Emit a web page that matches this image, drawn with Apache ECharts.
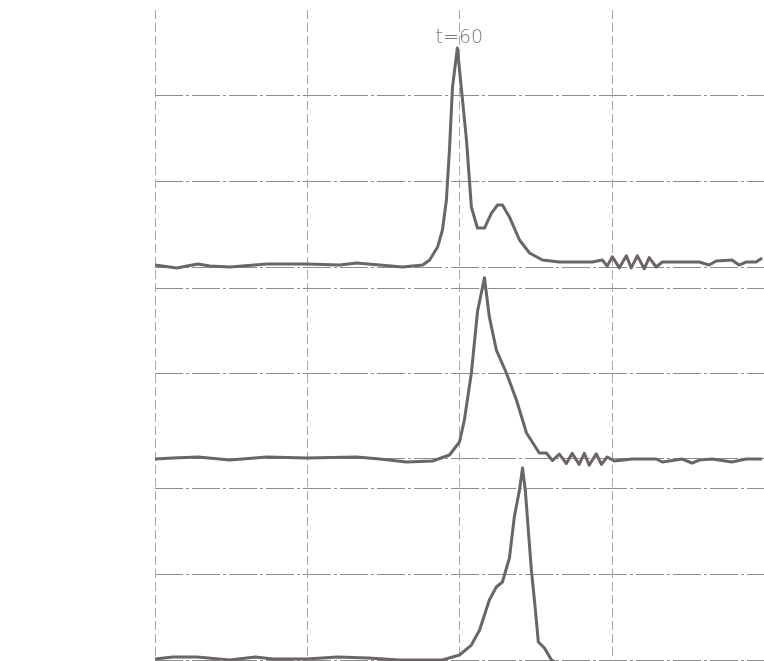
<!DOCTYPE html>
<html>
<head>
<meta charset="utf-8">
<script src="https://cdn.jsdelivr.net/npm/echarts@6/dist/echarts.min.js"></script>
<style>html,body{margin:0;padding:0;background:#fff;}#c{width:764px;height:661px;}</style>
</head>
<body>
<div id="c"></div>
<script>
// Trace 1 (top strip), [time, signal]
const trace1 = [[0,0.23],[7.2,-0.12],[10.5,0.12],[14.1,0.35],[18.0,0.12],[24.6,0],[36.7,0.35],[49.8,0.35],[60.7,0.23],[66.2,0.47],[73.8,0.23],[81.3,0],[87.9,0.23],[90.2,0.82],[92.8,2.33],[94.4,4.32],[95.7,7.82],[96.7,13.66],[97.7,21.0],[99.3,25.56],[102.3,14.8],[103.9,7.0],[105.9,4.55],[108.2,4.55],[110.5,6.3],[112.5,7.24],[114.1,7.24],[116.4,5.84],[119.7,3.15],[123.0,1.63],[127.2,0.82],[132.8,0.58],[143.6,0.58],[146.9,0.82],[148.5,0.1],[150.2,1.2],[152.5,-0.1],[154.8,1.3],[156.4,-0.1],[158.4,1.3],[160.7,-0.2],[162.3,1.1],[164.6,0],[166.6,0.58],[178.7,0.58],[182.0,0.23],[184.3,0.7],[189.5,0.82],[191.8,0.23],[194.1,0.58],[197.4,0.58],[199.4,1.05]];
// Trace 2 (middle strip)
const trace2 = [[0,-0.12],[5.9,0],[14.1,0.12],[24.6,-0.24],[36.7,0.12],[49.8,0],[66.2,0.12],[73.8,-0.12],[82.6,-0.47],[91.2,-0.35],[96.7,0.35],[100.0,1.88],[101.6,4.47],[103.9,10.0],[105.9,17.2],[108.2,21.2],[109.8,16.6],[112.1,12.7],[115.4,10.0],[118.7,6.82],[122.0,2.94],[126.2,0.59],[128.5,0.59],[130.5,-0.3],[132.8,0.45],[135.1,-0.65],[137.0,0.55],[139.3,-0.75],[141.0,0.55],[142.6,-0.85],[144.9,0.5],[146.6,-0.75],[148.5,0.12],[150.8,-0.35],[156.7,-0.12],[164.6,-0.12],[166.6,-0.47],[173.1,-0.12],[176.4,-0.59],[178.7,-0.24],[183.0,-0.12],[189.5,-0.47],[194.1,-0.12],[199.4,-0.12]];
// Trace 3 (bottom strip)
const trace3 = [[0,0.12],[5.9,0.35],[13.8,0.35],[24.6,0],[33.0,0.35],[38.7,0.12],[49.8,0.12],[60.0,0.35],[70.0,0.23],[80.3,0],[94.4,0],[100.0,0.58],[103.9,1.74],[106.6,3.49],[109.8,6.98],[112.1,8.49],[114.1,9.07],[116.4,11.86],[118.0,16.63],[119.7,19.77],[120.7,22.33],[121.6,19.77],[123.6,10.47],[124.6,6.98],[125.9,2.09],[127.9,1.40],[130.2,0],[132.8,-0.5],[199.7,-0.5]];
const peakLabel = 't=60';
const peakCoord = [99.3, 25.56];

const traceColor = '#6b6468';
const gridLineStyle = {color:'#8e8e8e', width:1, type:[28,3,3,3]};
const vLineStyle = {color:'#a8a8a8', width:1, type:[9,4]};

const chart = echarts.init(document.getElementById('c'));
const panels = [
  {top:10, height:257, max:30, data:trace1, showMax:false},
  {top:288, height:170, max:20, data:trace2, showMax:true},
  {top:488, height:172, max:20, data:trace3, showMax:true}
];
const grid = [{left:155, width:610, top:10, height:651}];
const xAxis = [{type:'value', gridIndex:0, min:0, max:200, interval:50, axisLine:{show:false}, axisTick:{show:false}, axisLabel:{show:false}, splitLine:{show:true, lineStyle:vLineStyle}}];
const yAxis = [{type:'value', gridIndex:0, min:0, max:1, show:false, splitLine:{show:false}}];
const series = [];
panels.forEach((p,i)=>{
  const g = i+1;
  grid.push({left:155, width:610, top:p.top, height:p.height});
  xAxis.push({type:'value', gridIndex:g, min:0, max:200, interval:50, show:false, splitLine:{show:false}});
  yAxis.push({type:'value', gridIndex:g, min:0, max:p.max, interval:10, axisLine:{show:false}, axisTick:{show:false}, axisLabel:{show:false},
    splitLine:{show:true, showMaxLine:p.showMax, lineStyle:gridLineStyle}});
  const s = {type:'line', xAxisIndex:g, yAxisIndex:g, data:p.data, showSymbol:false, symbol:'none', clip:false, smooth:false,
    lineStyle:{color:traceColor, width:3, join:'round'}, silent:true, animation:false};
  if(i===0){
    s.markPoint = {symbol:'circle', symbolSize:1, itemStyle:{color:'rgba(0,0,0,0)'}, silent:true,
      data:[{coord:peakCoord, label:{show:true, formatter:peakLabel, position:'top', distance:0, offset:[2,0],
        color:'#7a7a7a', fontSize:19, fontFamily:'DejaVu Sans', fontWeight:'lighter'}}]};
  }
  series.push(s);
});
chart.setOption({backgroundColor:'#ffffff', animation:false, grid, xAxis, yAxis, series});
</script>
</body>
</html>
